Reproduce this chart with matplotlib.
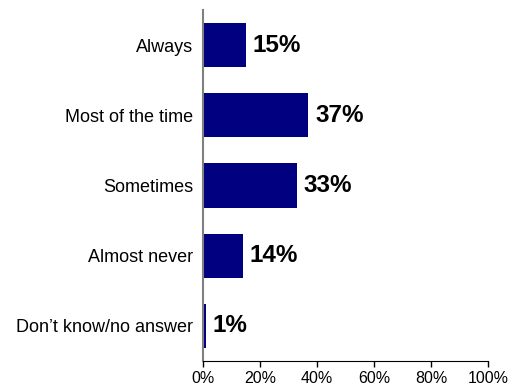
import matplotlib.pyplot as plt
from matplotlib.ticker import FuncFormatter

categories = ['Always', 'Most of the time', 'Sometimes', 'Almost never', 'Don\u2019t know/no answer']
values = [15, 37, 33, 14, 1]
xticks = [0, 20, 40, 60, 80, 100]

fig = plt.figure(figsize=(5.15, 3.91), dpi=100)
ax = fig.add_axes([0.394, 0.077, 0.554, 0.897])

ypos = list(range(len(categories)))
ax.barh(ypos, values, height=0.63, color='#000080')

for y, v in zip(ypos, values):
    ax.text(v + 2.4, y, f'{v}%', va='center', ha='left',
            fontsize=17.5, fontweight='bold', family='Liberation Sans')

ax.set_ylim(len(categories) - 0.5, -0.5)
ax.set_xlim(0, 100)
ax.set_yticks(ypos)
ax.set_yticklabels(categories, fontsize=13, family='Liberation Sans')
ax.tick_params(axis='y', length=0, pad=7)

ax.set_xticks(xticks)
ax.xaxis.set_major_formatter(FuncFormatter(lambda x, p: f'{x:.0f}%'))
for lbl in ax.get_xticklabels():
    lbl.set_family('Liberation Sans')
    lbl.set_fontsize(11.5)
ax.tick_params(axis='x', direction='out', length=4, width=1, pad=3, colors='black')

for side in ['top', 'right']:
    ax.spines[side].set_visible(False)
ax.spines['left'].set_color('#808080')
ax.spines['left'].set_linewidth(1.5)
ax.spines['bottom'].set_color('black')
ax.spines['bottom'].set_linewidth(0.8)

fig.savefig('out.png', dpi=100)
